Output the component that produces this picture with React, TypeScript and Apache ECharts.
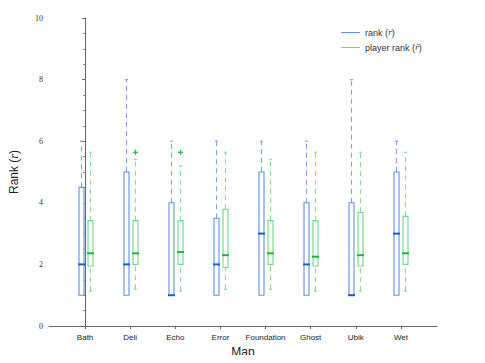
import React, { useEffect, useRef } from "react";
import * as echarts from "echarts";

const maps = ["Bath", "Deli", "Echo", "Error", "Foundation", "Ghost", "Ubik", "Wet"];
// [min, q1, median, q3, max]
const rankStats = [
  [1, 1, 2, 4.5, 6],
  [1, 1, 2, 5, 8],
  [1, 1, 1, 4, 6],
  [1, 1, 2, 3.5, 6],
  [1, 1, 3, 5, 6],
  [1, 1, 2, 4, 6],
  [1, 1, 1, 4, 8],
  [1, 1, 3, 5, 6],
];
const playerRankStats = [
  [1.13, 1.95, 2.36, 3.42, 5.64],
  [1.19, 2.0, 2.36, 3.42, 5.41],
  [1.13, 2.0, 2.4, 3.42, 5.2],
  [1.19, 1.9, 2.3, 3.79, 5.64],
  [1.19, 2.0, 2.36, 3.42, 5.41],
  [1.13, 1.95, 2.25, 3.42, 5.64],
  [1.13, 1.95, 2.3, 3.69, 5.64],
  [1.13, 2.0, 2.36, 3.56, 5.64],
];
// [map index, value]
const playerRankOutliers = [
  [1, 5.64],
  [2, 5.64],
];
const yTicks = [0, 2, 4, 6, 8, 10];

const BLUE = { box: "#5f8fe8", median: "#1d5bd8", whisker: "#7aa2ee" };
const GREEN = { box: "#72d78a", median: "#1cb83c", whisker: "#86dd98" };

function makeBoxRender(offset: number, col: typeof BLUE) {
  return (params: any, api: any) => {
    const i = api.value(0);
    const mn = api.value(1), q1 = api.value(2), md = api.value(3), q3 = api.value(4), mx = api.value(5);
    const px = (v: number) => {
      const p = api.coord([i, v]);
      return [p[0] + offset, p[1]];
    };
    const pMin = px(mn), pQ1 = px(q1), pMd = px(md), pQ3 = px(q3), pMx = px(mx);
    const x = Math.round(pMd[0]) + 0.5;
    const half = 2.5;
    const children: any[] = [];
    const dash = { stroke: col.whisker, lineWidth: 1.1, lineDash: [5, 4] };
    children.push({ type: "line", shape: { x1: x, y1: pQ3[1], x2: x, y2: pMx[1] }, style: dash });
    children.push({ type: "line", shape: { x1: x - 1.5, y1: pMx[1], x2: x + 1.5, y2: pMx[1] }, style: { stroke: col.whisker, lineWidth: 1.1 } });
    if (mn < q1) {
      children.push({ type: "line", shape: { x1: x, y1: pMin[1], x2: x, y2: pQ1[1] }, style: dash });
      children.push({ type: "line", shape: { x1: x - 1.5, y1: pMin[1], x2: x + 1.5, y2: pMin[1] }, style: { stroke: col.whisker, lineWidth: 1.1 } });
    }
    children.push({
      type: "rect",
      shape: { x: x - half, y: pQ3[1], width: half * 2, height: pQ1[1] - pQ3[1] },
      style: { fill: "#fff", stroke: col.box, lineWidth: 1.1 },
    });
    children.push({ type: "line", shape: { x1: x - 3.5, y1: pMd[1], x2: x + 3.5, y2: pMd[1] }, style: { stroke: col.median, lineWidth: 2 } });
    return { type: "group", children };
  };
}

export default function App() {
  const ref = useRef<HTMLDivElement>(null);
  useEffect(() => {
    const chart = echarts.init(ref.current!, undefined, { renderer: "svg" });
    const idx = maps.map((_, i) => i);
    chart.setOption({
      animation: false,
      backgroundColor: "#fff",
      grid: { left: 48, right: 48, top: 18, bottom: 37 },
      legend: {
        orient: "vertical",
        left: 336,
        top: 23,
        itemWidth: 19,
        itemHeight: 1,
        itemGap: 6,
        icon: "rect",
        textStyle: {
          fontFamily: "Liberation Sans",
          fontSize: 9,
          color: "#333",
          rich: { i: { fontFamily: "DejaVu Serif", fontStyle: "italic", fontSize: 8, color: "#333" } },
        },
        formatter: (name: string) =>
          name === "rank" ? "rank ({i|r})" : "player rank ({i|r\u0304})",
        data: ["rank", "player rank"],
      },
      xAxis: {
        type: "value",
        min: -0.8,
        max: 7.8,
        name: "Map",
        nameLocation: "middle",
        nameGap: 20,
        nameTextStyle: { fontFamily: "Liberation Sans", fontSize: 12, color: "#222" },
        axisLine: { lineStyle: { color: "#666", width: 1 } },
        axisTick: { show: true, customValues: idx, length: 3, lineStyle: { color: "#666" } },
        axisLabel: {
          customValues: idx,
          formatter: (v: number) => maps[Math.round(v)] ?? "",
          fontFamily: "Liberation Sans",
          fontSize: 8,
          color: "#222",
          margin: 7,
        },
        splitLine: { show: false },
      },
      yAxis: {
        type: "value",
        min: 0,
        max: 10,
        interval: 2,
        name: "Rank ({i|r})",
        nameLocation: "middle",
        nameGap: 29,
        nameTextStyle: {
          fontFamily: "Liberation Sans",
          fontSize: 12,
          color: "#222",
          rich: { i: { fontFamily: "Liberation Serif", fontStyle: "italic", fontSize: 12, color: "#222" } },
        },
        axisLine: { show: true, lineStyle: { color: "#666", width: 1 } },
        axisTick: { show: true, length: 3, lineStyle: { color: "#666" } },
        minorTick: { show: true, splitNumber: 4, length: 2, lineStyle: { color: "#888" } },
        axisLabel: {
          customValues: yTicks,
          fontFamily: "Liberation Serif",
          fontSize: 8,
          color: "#333",
          margin: 6,
        },
        splitLine: { show: false },
      },
      series: [
        {
          name: "rank",
          type: "custom",
          itemStyle: { color: BLUE.box },
          renderItem: makeBoxRender(-4.5, BLUE),
          data: rankStats.map((s, i) => [i, ...s]),
          encode: { x: 0, y: [1, 2, 3, 4, 5] },
        },
        {
          name: "player rank",
          type: "custom",
          itemStyle: { color: GREEN.box },
          renderItem: makeBoxRender(4.5, GREEN),
          data: playerRankStats.map((s, i) => [i, ...s]),
          encode: { x: 0, y: [1, 2, 3, 4, 5] },
        },
        {
          name: "player rank",
          type: "custom",
          itemStyle: { color: GREEN.box },
          renderItem: (params: any, api: any) => {
            const p = api.coord([api.value(0), api.value(1)]);
            const x = Math.round(p[0] + 4.5) + 0.5;
            const y = p[1];
            const st = { stroke: GREEN.median, lineWidth: 1.2 };
            return {
              type: "group",
              children: [
                { type: "line", shape: { x1: x - 2.5, y1: y, x2: x + 2.5, y2: y }, style: st },
                { type: "line", shape: { x1: x, y1: y - 2.5, x2: x, y2: y + 2.5 }, style: st },
              ],
            };
          },
          data: playerRankOutliers,
          encode: { x: 0, y: 1 },
        },
      ],
    });
    return () => chart.dispose();
  }, []);
  return <div ref={ref} style={{ width: 485, height: 363, margin: -8 }} />;
}
